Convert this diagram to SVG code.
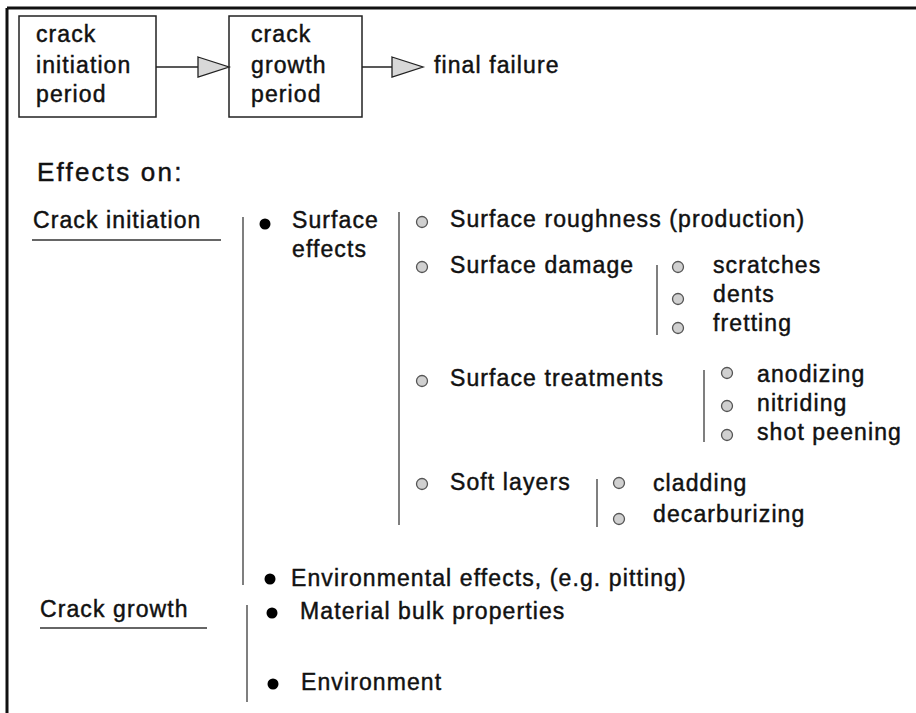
<svg xmlns="http://www.w3.org/2000/svg" width="916" height="713" viewBox="0 0 916 713">
<style>
text{font-family:"Liberation Sans",Arial,sans-serif;font-size:23px;letter-spacing:1.1px;fill:#111;stroke:#111;stroke-width:0.45}
.big{font-size:26px;letter-spacing:2.2px}
.box{fill:#fff;stroke:#222;stroke-width:1.5}
.vl{stroke:#555;stroke-width:1.5;fill:none}
.ul{stroke:#333;stroke-width:1.5;fill:none}
.bul{fill:#000}
.sub{fill:#d0d0d0;stroke:#555;stroke-width:1.3}
.conn{stroke:#222;stroke-width:1.5;fill:none}
.head{fill:#d8d8d8;stroke:#222;stroke-width:1.3}
</style>
<rect width="916" height="713" fill="#fff"/>
<g id="frame">
<line x1="7" y1="8" x2="916" y2="8" stroke="#111" stroke-width="3"/>
<line x1="7" y1="8" x2="7" y2="713" stroke="#111" stroke-width="3"/>
</g>
<g id="initiation-period">
<rect class="box" x="19" y="16" width="137" height="101"/>
<text x="36" y="42">crack</text>
<text x="36" y="73">initiation</text>
<text x="36" y="102">period</text>
</g>
<g id="growth-period">
<rect class="box" x="229" y="16" width="133" height="101"/>
<text x="251" y="42">crack</text>
<text x="251" y="73">growth</text>
<text x="251" y="102">period</text>
</g>
<g id="final-failure">
<text x="434" y="73">final failure</text>
</g>
<g id="connectors">
<line class="conn" x1="156" y1="67" x2="198" y2="67"/>
<polygon class="head" points="198,57 229,67 198,77"/>
<line class="conn" x1="362" y1="67" x2="392" y2="67"/>
<polygon class="head" points="392,57 423,67 392,77"/>
</g>
<g id="effects-title">
<text class="big" x="37" y="181">Effects on:</text>
</g>
<g id="crack-initiation">
<text x="33" y="228">Crack initiation</text>
<line class="ul" x1="32" y1="240" x2="221" y2="240"/>
<line class="vl" x1="243" y1="217" x2="243" y2="585"/>
</g>
<g id="surface-effects">
<circle class="bul" cx="265" cy="224" r="5.5"/>
<text x="292" y="228">Surface</text>
<text x="292" y="257">effects</text>
<line class="vl" x1="399" y1="212" x2="399" y2="525"/>
</g>
<g id="surface-roughness">
<circle class="sub" cx="422" cy="222" r="5.5"/>
<text x="450" y="227">Surface roughness (production)</text>
</g>
<g id="surface-damage">
<circle class="sub" cx="422" cy="267" r="5.5"/>
<text x="450" y="273">Surface damage</text>
<line class="vl" x1="657" y1="265" x2="657" y2="335"/>
<circle class="sub" cx="678" cy="267" r="5.5"/>
<text x="713" y="273">scratches</text>
<circle class="sub" cx="678" cy="299" r="5.5"/>
<text x="713" y="302">dents</text>
<circle class="sub" cx="678" cy="328" r="5.5"/>
<text x="713" y="331">fretting</text>
</g>
<g id="surface-treatments">
<circle class="sub" cx="422" cy="381" r="5.5"/>
<text x="450" y="386">Surface treatments</text>
<line class="vl" x1="704" y1="370" x2="704" y2="442"/>
<circle class="sub" cx="727" cy="373" r="5.5"/>
<text x="757" y="382">anodizing</text>
<circle class="sub" cx="727" cy="406" r="5.5"/>
<text x="757" y="411">nitriding</text>
<circle class="sub" cx="727" cy="435" r="5.5"/>
<text x="757" y="440">shot peening</text>
</g>
<g id="soft-layers">
<circle class="sub" cx="422" cy="484" r="5.5"/>
<text x="450" y="490">Soft layers</text>
<line class="vl" x1="597" y1="479" x2="597" y2="527"/>
<circle class="sub" cx="619" cy="483" r="5.5"/>
<text x="653" y="491">cladding</text>
<circle class="sub" cx="619" cy="519" r="5.5"/>
<text x="653" y="522">decarburizing</text>
</g>
<g id="environmental-effects">
<circle class="bul" cx="270" cy="579" r="5.5"/>
<text x="291" y="586">Environmental effects, (e.g. pitting)</text>
</g>
<g id="crack-growth">
<text x="40" y="617">Crack growth</text>
<line class="ul" x1="40" y1="628" x2="207" y2="628"/>
<line class="vl" x1="247" y1="605" x2="247" y2="702"/>
</g>
<g id="material-bulk">
<circle class="bul" cx="272" cy="613" r="5.5"/>
<text x="300" y="619">Material bulk properties</text>
</g>
<g id="environment">
<circle class="bul" cx="273" cy="684" r="5.5"/>
<text x="301" y="690">Environment</text>
</g>
</svg>
